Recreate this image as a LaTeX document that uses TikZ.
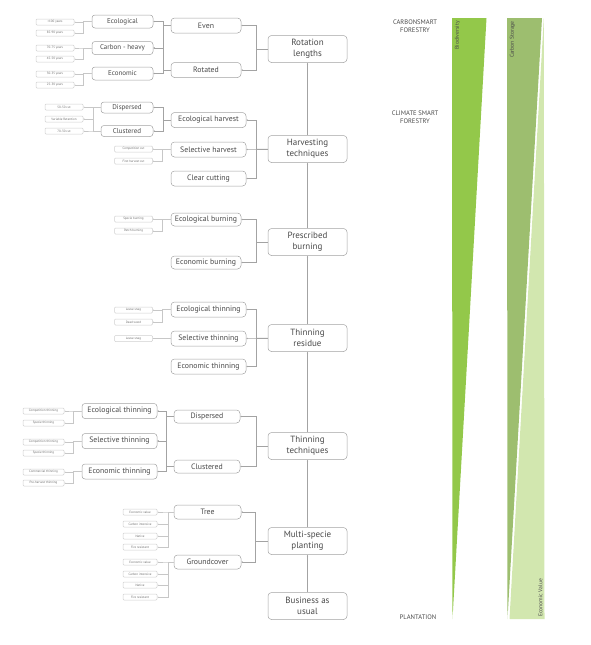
\documentclass[tikz,border=0pt]{standalone}
\usepackage{fontspec}
\setmainfont{PT Sans}
\usepackage{xcolor}
\usetikzlibrary{arrows.meta, positioning}

\definecolor{boxline}{HTML}{A3A3A3}
\definecolor{boxtext}{HTML}{4A4A4A}
\definecolor{leafline}{HTML}{D0D0D0}
\definecolor{bioGreen}{HTML}{93C84A}
\definecolor{carbGreen}{HTML}{9DBE6F}
\definecolor{econGreen}{HTML}{D2E7AF}

\begin{document}
\begin{tikzpicture}[
        x=1pt, y=-1pt,
        line width=0.5pt,
        mainbox/.style={
            draw=boxline,
            fill=white,
            rounded corners=3.5pt,
            align=center,
            text=boxtext,
            minimum width=79pt,
            minimum height=27pt,
            inner sep=1pt,
            font=\fontsize{9}{11}\selectfont
        },
        subbox/.style={
            draw=boxline,
            fill=white,
            rounded corners=3.5pt,
            text=boxtext,
            minimum height=15pt,
            inner sep=1pt,
            font=\fontsize{7.8}{8.5}\selectfont
        },
        twigbox/.style={
            draw=boxline,
            fill=white,
            rounded corners=3pt,
            text=boxtext,
            minimum height=13pt,
            inner sep=1pt,
            font=\fontsize{7}{8}\selectfont
        },
        leafbox/.style={
            draw=leafline,
            fill=white,
            rounded corners=1pt,
            text=boxtext!80,
            minimum height=6pt,
            minimum width=38pt,
            inner sep=0.5pt,
            font=\fontsize{3.2}{3.7}\selectfont
        },
        link/.style={
            draw=boxline,
            -{Stealth[length=1.6pt, width=1.4pt]}
        },
        leaflink/.style={
            draw=leafline!80!boxline,
            line width=0.35pt,
            -{Stealth[length=1.1pt, width=1pt]}
        },
        sidelbl/.style={
            text=boxtext,
            align=center,
            font=\fontsize{6.6}{8.4}\selectfont
        },
        wedgelbl/.style={
            text=boxtext,
            rotate=90,
            inner sep=0pt,
            font=\fontsize{5.6}{6.5}\selectfont
        }
    ]
        \useasboundingbox (0,0) rectangle (590,645);

        % wedges on the right
        \fill[bioGreen]  (452,18) -- (486.5,18) -- (452.5,619) -- cycle;
        \fill[carbGreen] (507,18) -- (542,18) -- (507.5,619) -- cycle;
        \fill[econGreen] (543.8,18) -- (544.5,619) -- (509.5,619) -- cycle;
        \node[wedgelbl, anchor=east] (bioLbl)  at (457.5,21) {Biodiversity};
        \node[wedgelbl, anchor=east] (carbLbl) at (512.5,21) {Carbon Storage};
        \node[wedgelbl, anchor=west] (econLbl) at (540.5,617) {Economic Value};

        \node[sidelbl] (csfLbl)   at (415,26)  {CARBONSMART\\FORESTRY};
        \node[sidelbl] (climLbl)  at (415,117) {CLIMATE SMART\\FORESTRY};
        \node[sidelbl] (plantLbl) at (418,617) {PLANTATION};

        % main column
        \node[mainbox] (rotLen)   at (307.5,49)  {Rotation\\lengths};
        \node[mainbox] (harvTech) at (307.5,149) {Harvesting\\techniques};
        \node[mainbox] (presBurn) at (307.5,242) {Prescribed\\burning};
        \node[mainbox] (thinRes)  at (307.5,338) {Thinning\\residue};
        \node[mainbox] (thinTech) at (307.5,446) {Thinning\\techniques};
        \node[mainbox] (multiSp)  at (307.5,541) {Multi-specie\\planting};
        \node[mainbox] (bau)      at (307.5,606) {Business as\\usual};

        \draw[link] (bau) -- (multiSp);
        \draw[link] (multiSp) -- (thinTech);
        \draw[link] (thinTech) -- (thinRes);
        \draw[link] (thinRes) -- (presBurn);
        \draw[link] (presBurn) -- (harvTech);
        \draw[link] (harvTech) -- (rotLen);

        % rotation lengths
        \node[subbox, minimum width=70pt] (even)    at (206,25.5) {Even};
        \node[subbox, minimum width=70pt] (rotated) at (206,70)   {Rotated};
        \draw[link] (rotLen.west) -- ++(-12,0) |- (even.east);
        \draw[link] (rotLen.west) -- ++(-12,0) |- (rotated.east);

        \node[twigbox, minimum width=61pt] (rotEco)  at (122.5,21.5) {Ecological};
        \node[twigbox, minimum width=61pt] (rotCarb) at (122.5,48)   {Carbon - heavy};
        \node[twigbox, minimum width=61pt] (rotEcon) at (122.5,73.5) {Economic};
        \draw[link] (even.west) -- ++(-8,0) |- (rotEco.east);
        \draw[link] (even.west) -- ++(-8,0) |- (rotCarb.east);
        \draw[link] (rotated.west) -- ++(-8,0) |- (rotCarb.east);
        \draw[link] (rotated.west) -- ++(-8,0) |- (rotEcon.east);

        \node[leafbox] (yrsA) at (55,22)  {>100 years};
        \node[leafbox] (yrsB) at (55,33)  {85-90 years};
        \node[leafbox] (yrsC) at (55,48)  {70-75 years};
        \node[leafbox] (yrsD) at (55,59)  {45-50 years};
        \node[leafbox] (yrsE) at (55,74)  {30-35 years};
        \node[leafbox] (yrsF) at (55,85)  {25-30 years};
        \draw[leaflink] (rotEco.west) -- ++(-9,0) |- (yrsA.east);
        \draw[leaflink] (rotEco.west) -- ++(-9,0) |- (yrsB.east);
        \draw[leaflink] (rotCarb.west) -- ++(-9,0) |- (yrsC.east);
        \draw[leaflink] (rotCarb.west) -- ++(-9,0) |- (yrsD.east);
        \draw[leaflink] (rotEcon.west) -- ++(-9,0) |- (yrsE.east);
        \draw[leaflink] (rotEcon.west) -- ++(-9,0) |- (yrsF.east);

        % harvesting techniques
        \node[subbox, minimum width=75pt] (ecoHarv)  at (208.5,120)   {Ecological harvest};
        \node[subbox, minimum width=75pt] (selHarv)  at (208.5,149.5) {Selective harvest};
        \node[subbox, minimum width=75pt] (clearCut) at (208.5,178.5) {Clear cutting};
        \draw[link] (harvTech.west) -- ++(-12,0) |- (ecoHarv.east);
        \draw[link] (harvTech.west) -- (selHarv.east);
        \draw[link] (harvTech.west) -- ++(-12,0) |- (clearCut.east);

        \node[twigbox, minimum width=52pt, minimum height=11pt] (harvDisp) at (127,107.5) {Dispersed};
        \node[twigbox, minimum width=52pt, minimum height=11pt] (harvClus) at (127,131)   {Clustered};
        \draw[link] (ecoHarv.west) -- ++(-8,0) |- (harvDisp.east);
        \draw[link] (ecoHarv.west) -- ++(-8,0) |- (harvClus.east);

        \node[leafbox] (cutA) at (64,107) {50-50 cut};
        \node[leafbox] (cutB) at (64,119) {Variable Retention};
        \node[leafbox] (cutC) at (64,131) {70-30 cut};
        \draw[leaflink] (harvDisp.west) -- ++(-8,0) |- (cutA.east);
        \draw[leaflink] (harvDisp.west) -- ++(-8,0) |- (cutB.east);
        \draw[leaflink] (harvClus.west) -- ++(-8,0) |- (cutB.east);
        \draw[leaflink] (harvClus.west) -- ++(-8,0) |- (cutC.east);

        \node[leafbox] (cutD) at (133.5,149) {Competition cut};
        \node[leafbox] (cutE) at (133.5,161) {First harvest cut};
        \draw[leaflink] (selHarv.west) -- ++(-9,0) |- (cutD.east);
        \draw[leaflink] (selHarv.west) -- ++(-9,0) |- (cutE.east);

        % prescribed burning
        \node[subbox, minimum width=70pt, minimum height=13pt] (ecoBurn)  at (206,219.5) {Ecological burning};
        \node[subbox, minimum width=70pt, minimum height=13pt] (econBurn) at (206,262.5) {Economic burning};
        \draw[link] (presBurn.west) -- ++(-12,0) |- (ecoBurn.east);
        \draw[link] (presBurn.west) -- ++(-12,0) |- (econBurn.east);

        \node[leafbox] (burnA) at (133.5,219) {Specie burning};
        \node[leafbox] (burnB) at (133.5,231) {Patch burning};
        \draw[leaflink] (ecoBurn.west) -- ++(-9,0) |- (burnA.east);
        \draw[leaflink] (ecoBurn.west) -- ++(-9,0) |- (burnB.east);

        % thinning residue
        \node[subbox, minimum width=75pt] (ecoThin)  at (208.5,309.5) {Ecological thinning};
        \node[subbox, minimum width=75pt] (selThin)  at (208.5,338.5) {Selective thinning};
        \node[subbox, minimum width=75pt] (econThin) at (208.5,366.5) {Economic thinning};
        \draw[link] (thinRes.west) -- ++(-12,0) |- (ecoThin.east);
        \draw[link] (thinRes.west) -- (selThin.east);
        \draw[link] (thinRes.west) -- ++(-12,0) |- (econThin.east);

        \node[leafbox] (resA) at (133.5,310) {Leave snag};
        \node[leafbox] (resB) at (133.5,322) {Dead wood};
        \node[leafbox] (resC) at (133.5,338.5) {Leave snag};
        \draw[leaflink] (ecoThin.west) -- ++(-9,0) |- (resA.east);
        \draw[leaflink] (ecoThin.west) -- ++(-9,0) |- (resB.east);
        \draw[leaflink] (selThin.west) -- (resC.east);

        % thinning techniques
        \node[subbox, minimum width=66pt, minimum height=13pt] (thinDisp) at (207,416.5) {Dispersed};
        \node[subbox, minimum width=66pt, minimum height=13pt] (thinClus) at (207,466.5) {Clustered};
        \draw[link] (thinTech.west) -- ++(-12,0) |- (thinDisp.east);
        \draw[link] (thinTech.west) -- ++(-12,0) |- (thinClus.east);

        \node[twigbox, minimum width=75pt, minimum height=15pt, font=\fontsize{7.8}{8.5}\selectfont] (tEcoThin)  at (119.5,411)   {Ecological thinning};
        \node[twigbox, minimum width=75pt, minimum height=15pt, font=\fontsize{7.8}{8.5}\selectfont] (tSelThin)  at (119.5,441)   {Selective thinning};
        \node[twigbox, minimum width=75pt, minimum height=15pt, font=\fontsize{7.8}{8.5}\selectfont] (tEconThin) at (119.5,471.5) {Economic thinning};
        \draw[link] (thinDisp.west) -- ++(-8,0) |- (tEcoThin.east);
        \draw[link] (thinDisp.west) -- ++(-8,0) |- (tSelThin.east);
        \draw[link] (thinClus.west) -- ++(-8,0) |- (tSelThin.east);
        \draw[link] (thinClus.west) -- ++(-8,0) |- (tEconThin.east);

        \node[leafbox, minimum width=41pt] (techA) at (43.5,411) {Competition thinning};
        \node[leafbox, minimum width=41pt] (techB) at (43.5,423) {Specie thinning};
        \node[leafbox, minimum width=41pt] (techC) at (43.5,442) {Competition thinning};
        \node[leafbox, minimum width=41pt] (techD) at (43.5,453) {Specie thinning};
        \node[leafbox, minimum width=41pt] (techE) at (43.5,472) {Commercial thinning};
        \node[leafbox, minimum width=41pt] (techF) at (43.5,483) {Pre-harvest thinning};
        \draw[leaflink] (tEcoThin.west) -- ++(-9,0) |- (techA.east);
        \draw[leaflink] (tEcoThin.west) -- ++(-9,0) |- (techB.east);
        \draw[leaflink] (tSelThin.west) -- ++(-9,0) |- (techC.east);
        \draw[leaflink] (tSelThin.west) -- ++(-9,0) |- (techD.east);
        \draw[leaflink] (tEconThin.west) -- ++(-9,0) |- (techE.east);
        \draw[leaflink] (tEconThin.west) -- ++(-9,0) |- (techF.east);

        % multi-specie planting
        \node[subbox, minimum width=67pt, minimum height=14pt] (tree)   at (207.5,512) {Tree};
        \node[subbox, minimum width=67pt, minimum height=14pt] (ground) at (207.5,562) {Groundcover};
        \draw[link] (multiSp.west) -- ++(-13,0) |- (tree.east);
        \draw[link] (multiSp.west) -- ++(-13,0) |- (ground.east);

        \node[leafbox, minimum width=34pt] (treeA) at (140,512) {Economic value};
        \node[leafbox, minimum width=34pt] (treeB) at (140,524) {Carbon intensive};
        \node[leafbox, minimum width=34pt] (treeC) at (140,536) {Native};
        \node[leafbox, minimum width=34pt] (treeD) at (140,547) {Fire resistant};
        \draw[leaflink] (tree.west) -- ++(-6,0) |- (treeA.east);
        \draw[leaflink] (tree.west) -- ++(-6,0) |- (treeB.east);
        \draw[leaflink] (tree.west) -- ++(-6,0) |- (treeC.east);
        \draw[leaflink] (tree.west) -- ++(-6,0) |- (treeD.east);

        \node[leafbox, minimum width=34pt] (groundA) at (140,562) {Economic value};
        \node[leafbox, minimum width=34pt] (groundB) at (140,574) {Carbon intensive};
        \node[leafbox, minimum width=34pt] (groundC) at (140,585) {Native};
        \node[leafbox, minimum width=34pt] (groundD) at (140,597) {Fire resistant};
        \draw[leaflink] (ground.west) -- ++(-6,0) |- (groundA.east);
        \draw[leaflink] (ground.west) -- ++(-6,0) |- (groundB.east);
        \draw[leaflink] (ground.west) -- ++(-6,0) |- (groundC.east);
        \draw[leaflink] (ground.west) -- ++(-6,0) |- (groundD.east);

    \end{tikzpicture}
\end{document}
